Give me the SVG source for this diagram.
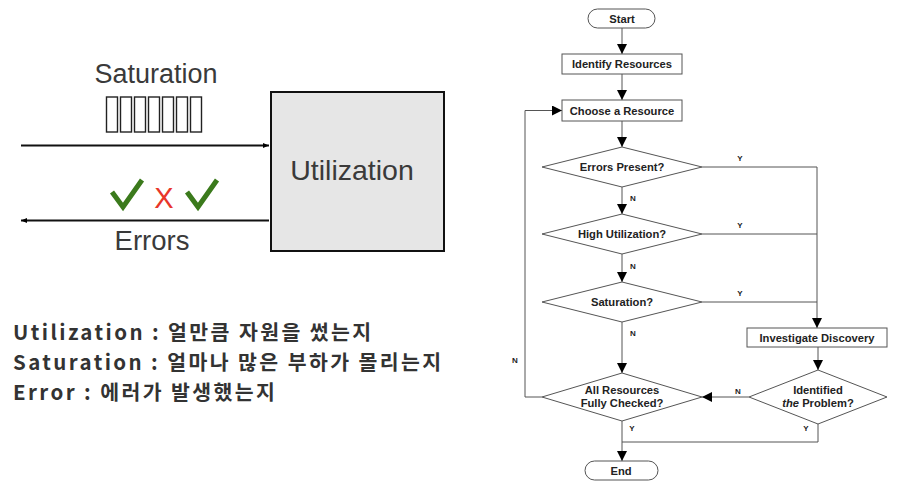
<svg xmlns="http://www.w3.org/2000/svg" width="902" height="494" viewBox="0 0 902 494">
<style>
.lbl{font-family:"Liberation Sans",Arial,sans-serif;fill:#3a3a3a}
.ko{font-family:"Noto Sans CJK KR",sans-serif;font-weight:bold;font-size:20.5px;letter-spacing:2.4px;fill:#333}
.fc{font-family:"Liberation Sans",Arial,sans-serif;font-weight:bold;font-size:11.2px;fill:#222;text-anchor:middle}
.yn{font-family:"Liberation Sans",Arial,sans-serif;font-weight:bold;font-size:8px;fill:#222;text-anchor:middle}
.shape{fill:#fff;stroke:#555;stroke-width:1}
.ln{fill:none;stroke:#555;stroke-width:1}
.q{fill:#fff;stroke:#222;stroke-width:1.4}
.chk{fill:none;stroke:#3b7a1c;stroke-width:5;stroke-linecap:butt;stroke-linejoin:miter}
</style>
<defs>
<marker id="ah" viewBox="0 0 10 10" refX="10" refY="5" markerWidth="10" markerHeight="10" markerUnits="userSpaceOnUse" orient="auto">
<path d="M0,0 L10,5 L0,10 z" fill="#000"/>
</marker>
<marker id="sm" viewBox="0 0 10 10" refX="10" refY="5" markerWidth="6" markerHeight="6" markerUnits="userSpaceOnUse" orient="auto">
<path d="M0,1 L10,5 L0,9 z" fill="#000"/>
</marker>
</defs>
<rect width="902" height="494" fill="#fff"/>

<g id="use-diagram">
<text class="lbl" x="156" y="83" font-size="27" text-anchor="middle">Saturation</text>
<g id="queue">
<rect class="q" x="106.5" y="97" width="11" height="35"/>
<rect class="q" x="120.5" y="97" width="11" height="35"/>
<rect class="q" x="134.5" y="97" width="11" height="35"/>
<rect class="q" x="148.5" y="97" width="11" height="35"/>
<rect class="q" x="162.5" y="97" width="11" height="35"/>
<rect class="q" x="176.5" y="97" width="11" height="35"/>
<rect class="q" x="190.5" y="97" width="11" height="35"/>
</g>
<g id="utilization-box">
<rect x="271" y="92" width="173" height="159" fill="#e6e6e6" stroke="#111" stroke-width="2"/>
<text class="lbl" x="352" y="180" font-size="28.5" text-anchor="middle">Utilization</text>
</g>
<line x1="21" y1="145.5" x2="269" y2="145.5" stroke="#111" stroke-width="2.2" marker-end="url(#sm)"/>
<line x1="269" y1="220.5" x2="21" y2="220.5" stroke="#111" stroke-width="2.2" marker-end="url(#sm)"/>
<path class="chk" d="M112,192 L123,207 L142,180"/>
<text x="164" y="208" font-family="Liberation Sans,Arial,sans-serif" font-size="29" fill="#e8362a" text-anchor="middle">X</text>
<path class="chk" d="M187,192 L198,207 L217,180"/>
<text class="lbl" x="152" y="250" font-size="27.5" text-anchor="middle">Errors</text>
</g>

<g id="korean-notes">
<text class="ko" x="13" y="340">Utilization : 얼만큼 자원을 썼는지</text>
<text class="ko" x="13" y="370">Saturation : 얼마나 많은 부하가 몰리는지</text>
<text class="ko" x="13" y="400">Error : 에러가 발생했는지</text>
</g>

<g id="connectors">
<line class="ln" x1="622" y1="28" x2="622" y2="54" marker-end="url(#ah)"/>
<line class="ln" x1="622" y1="74" x2="622" y2="100" marker-end="url(#ah)"/>
<line class="ln" x1="622" y1="121" x2="622" y2="147" marker-end="url(#ah)"/>
<line class="ln" x1="622" y1="187" x2="622" y2="214" marker-end="url(#ah)"/>
<line class="ln" x1="622" y1="254" x2="622" y2="282" marker-end="url(#ah)"/>
<line class="ln" x1="622" y1="322" x2="622" y2="373" marker-end="url(#ah)"/>
<polyline class="ln" points="702,167 817,167 817,328" marker-end="url(#ah)"/>
<line class="ln" x1="702" y1="234" x2="817" y2="234"/>
<line class="ln" x1="702" y1="302" x2="817" y2="302"/>
<line class="ln" x1="818" y1="347" x2="818" y2="370" marker-end="url(#ah)"/>
<line class="ln" x1="749" y1="397" x2="702" y2="397" marker-end="url(#ah)"/>
<polyline class="ln" points="542,397 525,397 525,110.5 562,110.5" marker-end="url(#ah)"/>
<polyline class="ln" points="818,424 818,442 622,442"/>
<line class="ln" x1="622" y1="421" x2="622" y2="461" marker-end="url(#ah)"/>
<text class="yn" x="740" y="161">Y</text>
<text class="yn" x="740" y="228">Y</text>
<text class="yn" x="740" y="296">Y</text>
<text class="yn" x="633" y="201">N</text>
<text class="yn" x="633" y="269">N</text>
<text class="yn" x="633" y="336">N</text>
<text class="yn" x="738" y="394">N</text>
<text class="yn" x="515" y="363">N</text>
<text class="yn" x="632" y="431">Y</text>
<text class="yn" x="806" y="431">Y</text>
</g>

<g id="start">
<rect class="shape" x="588" y="9" width="67" height="19" rx="9.5"/>
<text class="fc" x="622" y="22.5">Start</text>
</g>
<g id="identify-resources">
<rect class="shape" x="562" y="54" width="120" height="20"/>
<text class="fc" x="622" y="68">Identify Resources</text>
</g>
<g id="choose-resource">
<rect class="shape" x="562" y="100" width="120" height="21"/>
<text class="fc" x="622" y="114.5">Choose a Resource</text>
</g>
<g id="errors-present">
<polygon class="shape" points="622,147 702,167 622,187 542,167"/>
<text class="fc" x="622" y="171">Errors Present?</text>
</g>
<g id="high-utilization">
<polygon class="shape" points="622,214 702,234 622,254 542,234"/>
<text class="fc" x="622" y="238">High Utilization?</text>
</g>
<g id="saturation">
<polygon class="shape" points="622,282 702,302 622,322 542,302"/>
<text class="fc" x="622" y="306">Saturation?</text>
</g>
<g id="investigate-discovery">
<rect class="shape" x="747" y="328" width="140" height="19"/>
<text class="fc" x="817" y="341.5">Investigate Discovery</text>
</g>
<g id="identified-problem">
<polygon class="shape" points="818,370 887,397 818,424 749,397"/>
<text class="fc" x="818" y="394">Identified</text>
<text class="fc" x="818" y="407"><tspan font-style="italic">the</tspan> Problem?</text>
</g>
<g id="all-resources-checked">
<polygon class="shape" points="622,373 702,397 622,421 542,397"/>
<text class="fc" x="622" y="394">All Resources</text>
<text class="fc" x="622" y="407">Fully Checked?</text>
</g>
<g id="end">
<rect class="shape" x="585" y="461" width="73" height="19" rx="9.5"/>
<text class="fc" x="621" y="474.5">End</text>
</g>
</svg>
